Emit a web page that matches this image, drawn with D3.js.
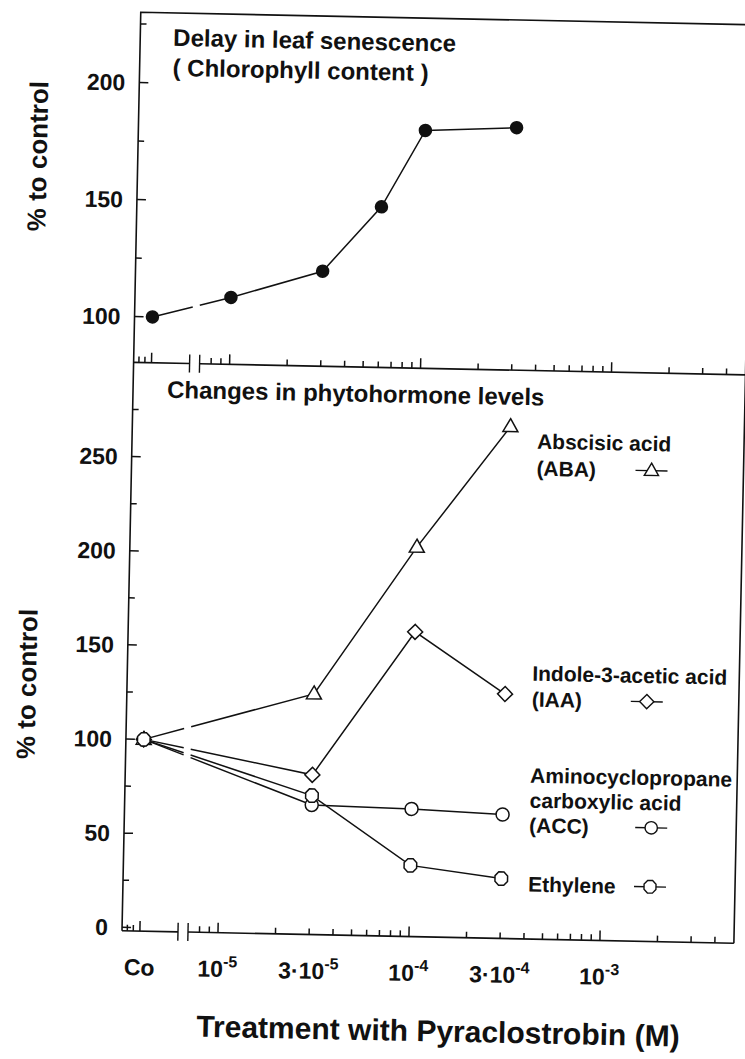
<!DOCTYPE html>
<html>
<head>
<meta charset="utf-8">
<script src="https://cdn.jsdelivr.net/npm/d3@7/dist/d3.min.js"></script>
<style>
  body { margin: 0; background: #fff; }
  text { font-family: "Liberation Sans", Arial, Helvetica, sans-serif; font-weight: bold; fill: #111; }
</style>
</head>
<body>
<div id="chart"></div>
<script>
var w = 745, h = 1059;

// the untreated control sits left of the axis break, at a nominal concentration
var coConc = 3.9e-6;

// upper panel - delay in leaf senescence (chlorophyll, % to control)
var chlConc = [coConc, 1e-5, 3e-5, 6e-5, 1e-4, 3e-4];
var chlValues = [100, 109, 121, 149, 182, 184];

// lower panel - phytohormone levels (% to control)
var hormoneConc = [coConc, 3e-5, 1e-4, 3e-4];
var abaValues = [100, 126, 205, 270];
var iaaValues = [100, 83, 160, 128];
var accValues = [100, 67, 66, 64];
var ethyleneValues = [100, 72, 36, 30];

var legendLabels = [
  ['Abscisic acid', '(ABA)'],
  ['Indole-3-acetic acid', '(IAA)'],
  ['Aminocyclopropane', 'carboxylic acid', '(ACC)'],
  ['Ethylene']
];

// x axis
var xLabelConc = [coConc, 1e-5, 3e-5, 1e-4, 3e-4, 1e-3];
var xLabelBase = ['Co', '10', '3\u00b710', '10', '3\u00b710', '10'];
var xLabelExp = ['', '-5', '-5', '-4', '-4', '-3'];
var xMajorConc = [coConc, 1e-5, 1e-4, 1e-3];
var xMinorConc = [3.35e-6, 3.6e-6, 8e-6, 9e-6,
  2e-5, 3e-5, 4e-5, 5e-5, 6e-5, 7e-5, 8e-5, 9e-5,
  2e-4, 3e-4, 4e-4, 5e-4, 6e-4, 7e-4, 8e-4, 9e-4,
  2e-3, 3e-3, 4e-3];

// y axes
var topTicks = [100, 150, 200];
var topMinor = [125, 175, 225];
var botTicks = [0, 50, 100, 150, 200, 250];
var botMinor = [25, 75, 125, 175, 225, 275];

//---- layout (scan is tilted a little clockwise)
var leftX = 122, rightX = 734, topY = 12.1, midY = 362.3, bottomY = 930.7;
var breakX = [178, 188];
var lineGap = [180, 187];
var tilt = 1.17;

var x = d3.scaleLog().domain([1e-5, 1e-3]).range([218, 600]);
var yTop = d3.scaleLinear().domain([80.4, 230]).range([midY, topY]);
var yBot = d3.scaleLinear().domain([-1.8, 300]).range([bottomY, midY]);

var svg = d3.select('#chart').append('svg')
  .attr('width', w).attr('height', h);
svg.append('rect').attr('width', w).attr('height', h).attr('fill', '#fff');

var g = svg.append('g')
  .attr('transform', 'rotate(' + tilt + ',' + leftX + ',' + bottomY + ')');

var ink = '#111';

//---- frame
g.append('path')
  .attr('d', 'M' + leftX + ',' + bottomY + 'V' + topY + 'H' + rightX + 'V' + bottomY)
  .attr('fill', 'none').attr('stroke', ink).attr('stroke-width', 1.6);

function xAxis(y0) {
  // axis line with a break
  g.append('path')
    .attr('d', 'M' + leftX + ',' + y0 + 'H' + breakX[0] + 'M' + breakX[1] + ',' + y0 + 'H' + rightX)
    .attr('fill', 'none').attr('stroke', ink).attr('stroke-width', 1.6);
  g.selectAll(null)
    .data(breakX)
    .enter()
    .append('line')
    .attr('x1', function (d) { return d; })
    .attr('x2', function (d) { return d; })
    .attr('y1', y0 - 9).attr('y2', y0 + 9)
    .attr('stroke', ink).attr('stroke-width', 1.4);
  // ticks point up, into the panel
  [[xMajorConc, 10], [xMinorConc, 6]].forEach(function (set) {
    g.selectAll(null)
      .data(set[0])
      .enter()
      .append('line')
      .attr('x1', function (d) { return x(d); })
      .attr('x2', function (d) { return x(d); })
      .attr('y1', y0).attr('y2', y0 - set[1])
      .attr('stroke', ink).attr('stroke-width', 1.5);
  });
}

function yAxis(scale, ticks, minors) {
  // ticks point right, into the panel
  [[ticks, 9], [minors, 6]].forEach(function (set) {
    g.selectAll(null)
      .data(set[0])
      .enter()
      .append('line')
      .attr('x1', leftX).attr('x2', leftX + set[1])
      .attr('y1', function (d) { return scale(d); })
      .attr('y2', function (d) { return scale(d); })
      .attr('stroke', ink).attr('stroke-width', 1.5);
  });
  g.selectAll(null)
    .data(ticks)
    .enter()
    .append('text')
    .attr('x', leftX - 14)
    .attr('y', function (d) { return scale(d); })
    .attr('dy', '0.36em')
    .attr('text-anchor', 'end')
    .attr('font-size', 23)
    .text(function (d) { return d; });
}

xAxis(midY);
xAxis(bottomY);
yAxis(yTop, topTicks, topMinor);
yAxis(yBot, botTicks, botMinor);

// x tick labels
var xl = g.selectAll('text.xlab')
  .data(xLabelConc)
  .enter()
  .append('text')
  .attr('class', 'xlab')
  .attr('x', function (d) { return x(d); })
  .attr('y', 975)
  .attr('text-anchor', 'middle')
  .attr('font-size', 23);
xl.append('tspan').text(function (d, i) { return xLabelBase[i]; });
xl.append('tspan')
  .attr('dy', -10)
  .attr('font-size', 16)
  .text(function (d, i) { return xLabelExp[i]; });

//---- axis titles
g.append('text')
  .attr('transform', 'translate(31,158) rotate(-90)')
  .attr('text-anchor', 'middle').attr('font-size', 26)
  .text('% to control');
g.append('text')
  .attr('transform', 'translate(31,686) rotate(-90)')
  .attr('text-anchor', 'middle').attr('font-size', 26)
  .text('% to control');
g.append('text')
  .attr('x', 440).attr('y', 1035)
  .attr('text-anchor', 'middle').attr('font-size', 30)
  .text('Treatment with Pyraclostrobin (M)');

g.append('text').attr('x', 155).attr('y', 45).attr('font-size', 24)
  .text('Delay in leaf senescence');
g.append('text').attr('x', 155).attr('y', 75).attr('font-size', 24)
  .text('( Chlorophyll content )');
g.append('text').attr('x', 156).attr('y', 397).attr('font-size', 24)
  .text('Changes in phytohormone levels');

//---- markers
function marker(type, s) {
  var p = d3.path();
  if (type == 'circle') {
    p.moveTo(6.5 * s, 0);
    p.arc(0, 0, 6.5 * s, 0, 2 * Math.PI);
  } else if (type == 'dot') {
    p.moveTo(6 * s, 0);
    p.arc(0, 0, 6 * s, 0, 2 * Math.PI);
  } else if (type == 'triangle') {
    p.moveTo(0, -8 * s); p.lineTo(7.5 * s, 5 * s); p.lineTo(-7.5 * s, 5 * s);
  } else if (type == 'diamond') {
    p.moveTo(0, -7.5 * s); p.lineTo(7.5 * s, 0); p.lineTo(0, 7.5 * s); p.lineTo(-7.5 * s, 0);
  } else {
    // ethylene: flat-topped octagon
    for (var k = 0; k < 8; k++) {
      var a = Math.PI / 8 + k * Math.PI / 4;
      var px = 6.8 * s * Math.cos(a), py = 7.2 * s * Math.sin(a);
      if (k == 0) p.moveTo(px, py); else p.lineTo(px, py);
    }
  }
  p.closePath();
  return p.toString();
}

// split a polyline where it crosses the axis break
function gapRuns(pts) {
  var runs = [[pts[0]]];
  for (var i = 1; i < pts.length; i++) {
    var p = pts[i - 1], q = pts[i];
    if (p[0] < lineGap[0] && q[0] > lineGap[1]) {
      var t0 = (lineGap[0] - p[0]) / (q[0] - p[0]);
      var t1 = (lineGap[1] - p[0]) / (q[0] - p[0]);
      runs[runs.length - 1].push([lineGap[0], p[1] + t0 * (q[1] - p[1])]);
      runs.push([[lineGap[1], p[1] + t1 * (q[1] - p[1])]]);
    }
    runs[runs.length - 1].push(q);
  }
  return runs;
}

var line = d3.line();

function drawSeries(conc, values, yScale) {
  var pts = conc.map(function (c, i) { return [x(c), yScale(values[i])]; });
  g.selectAll(null)
    .data(gapRuns(pts))
    .enter()
    .append('path')
    .attr('d', line)
    .attr('fill', 'none').attr('stroke', ink).attr('stroke-width', 1.5);
  return pts;
}

function drawMarkers(pts, type) {
  g.selectAll(null)
    .data(pts)
    .enter()
    .append('path')
    .attr('transform', function (d) { return 'translate(' + d[0] + ',' + d[1] + ')'; })
    .attr('d', marker(type, 1))
    .attr('fill', type == 'dot' ? ink : '#fff')
    .attr('stroke', ink).attr('stroke-width', 1.5);
}

// upper panel
var chlPts = drawSeries(chlConc, chlValues, yTop);
drawMarkers(chlPts, 'dot');

// lower panel
var series = [
  { values: abaValues, type: 'triangle' },
  { values: iaaValues, type: 'diamond' },
  { values: accValues, type: 'circle' },
  { values: ethyleneValues, type: 'octagon' }
];
series.forEach(function (s) { s.pts = drawSeries(hormoneConc, s.values, yBot); });
series.forEach(function (s) { drawMarkers(s.pts, s.type); });

//---- legend
var legendX = 527;
var symbolX = [642, 642, 649, 649];
var legendRowY = [[433, 460], [665, 691], [767, 792, 817], [876]];

legendLabels.forEach(function (lines, i) {
  var rows = legendRowY[i];
  g.selectAll(null)
    .data(lines)
    .enter()
    .append('text')
    .attr('x', legendX)
    .attr('y', function (d, j) { return rows[j]; })
    .attr('dy', '0.35em')
    .attr('font-size', 21)
    .text(function (d) { return d; });
  var sy = rows[rows.length - 1];
  g.append('line')
    .attr('x1', symbolX[i] - 16).attr('x2', symbolX[i] + 16)
    .attr('y1', sy).attr('y2', sy)
    .attr('stroke', ink).attr('stroke-width', 1.4);
  g.append('path')
    .attr('transform', 'translate(' + symbolX[i] + ',' + sy + ')')
    .attr('d', marker(series[i].type, 0.95))
    .attr('fill', '#fff').attr('stroke', ink).attr('stroke-width', 1.4);
});
</script>
</body>
</html>
